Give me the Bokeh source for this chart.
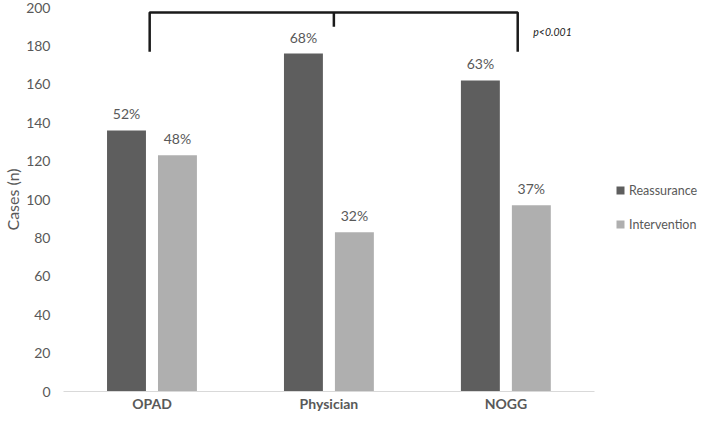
from bokeh.plotting import figure
from bokeh.models import ColumnDataSource, Range1d, Legend, LegendItem, Label, FixedTicker
from bokeh.core.properties import value
from bokeh.embed import file_html
from bokeh.resources import INLINE

categories = ["OPAD", "Physician", "NOGG"]
reassurance = [136, 176, 162]
intervention = [123, 83, 97]
reassurance_pct = ["52%", "68%", "63%"]
intervention_pct = ["48%", "32%", "37%"]
y_ticks = [0, 20, 40, 60, 80, 100, 120, 140, 160, 180, 200]
p_value_text = "p<0.001"

DARK = "#5e5e5e"
LIGHT = "#afafaf"
TXT = "#595959"
FONT = "Lato"

off = 0.144
bw = 0.22
centers = [i + 0.5 for i in range(len(categories))]
src = ColumnDataSource(dict(xr=[c - off for c in centers], xi=[c + off for c in centers],
                            rea=reassurance, inter=intervention,
                            rea_pct=reassurance_pct, inter_pct=intervention_pct))

p = figure(x_range=Range1d(0, 3.6), y_range=Range1d(0, 200),
           width=700, height=414, output_backend="svg", toolbar_location=None,
           min_border_left=50, min_border_right=0, min_border_top=7, min_border_bottom=18)
p.outline_line_color = None
p.xgrid.grid_line_color = None
p.ygrid.grid_line_color = None

r1 = p.vbar(x="xr", top="rea", width=bw, source=src, fill_color=DARK, line_color=None)
r2 = p.vbar(x="xi", top="inter", width=bw, source=src, fill_color=LIGHT, line_color=None)

p.text(x="xr", y="rea", text="rea_pct", source=src,
       text_align="center", text_baseline="bottom", y_offset=-8,
       text_font=value(FONT), text_font_size="14px", text_color=TXT)
p.text(x="xi", y="inter", text="inter_pct", source=src,
       text_align="center", text_baseline="bottom", y_offset=-8,
       text_font=value(FONT), text_font_size="14px", text_color=TXT)

# significance bracket
bx_left, bx_mid, bx_right = 0.487, 1.528, 2.567
by_top, by_leg, by_mid = 197.4, 177.0, 190.0
p.line(x=[bx_left, bx_left, bx_right, bx_right], y=[by_leg, by_top, by_top, by_leg],
       line_color="#1a1a1a", line_width=2.5)
p.line(x=[bx_mid, bx_mid], y=[by_top, by_mid], line_color="#1a1a1a", line_width=2.5)
p.add_layout(Label(x=2.655, y=187, text=p_value_text, text_font=FONT, text_font_style="italic",
                   text_font_size="10.5px", text_color="#222222", text_baseline="middle"))

# axes
p.yaxis.ticker = FixedTicker(ticks=y_ticks)
p.yaxis.axis_line_color = None
p.yaxis.major_tick_line_color = None
p.yaxis.minor_tick_line_color = None
p.yaxis.major_tick_out = 0
p.yaxis.major_tick_in = 0
p.yaxis.major_label_text_font = FONT
p.yaxis.major_label_text_font_size = "14px"
p.yaxis.major_label_text_color = TXT
p.yaxis.major_label_standoff = 13
p.yaxis.axis_label = "Cases (n)"
p.yaxis.axis_label_text_font = FONT
p.yaxis.axis_label_text_font_size = "16px"
p.yaxis.axis_label_text_font_style = "normal"
p.yaxis.axis_label_text_color = TXT
p.yaxis.axis_label_standoff = 1

p.xaxis.ticker = FixedTicker(ticks=centers)
p.xaxis.major_label_overrides = {c: name for c, name in zip(centers, categories)}
p.xaxis.bounds = (0, len(categories))
p.xaxis.axis_line_color = "#d9d9d9"
p.xaxis.axis_line_width = 1
p.xaxis.major_tick_line_color = None
p.xaxis.minor_tick_line_color = None
p.xaxis.major_tick_out = 0
p.xaxis.major_tick_in = 0
p.xaxis.major_label_text_font = FONT
p.xaxis.major_label_text_font_size = "14px"
p.xaxis.major_label_text_font_style = "bold"
p.xaxis.major_label_text_color = TXT
p.xaxis.major_label_standoff = 3

legend = Legend(items=[LegendItem(label="Reassurance", renderers=[r1]),
                       LegendItem(label="Intervention", renderers=[r2])],
                location=(552, 157), orientation="vertical",
                glyph_width=10, glyph_height=10, label_text_font=FONT,
                label_text_font_size="12.5px", label_text_color=TXT, label_height=20,
                label_standoff=4, spacing=14, padding=0, margin=0,
                border_line_color=None, background_fill_alpha=0)
p.add_layout(legend, "center")

open("out.html", "w").write(file_html(p, INLINE))
